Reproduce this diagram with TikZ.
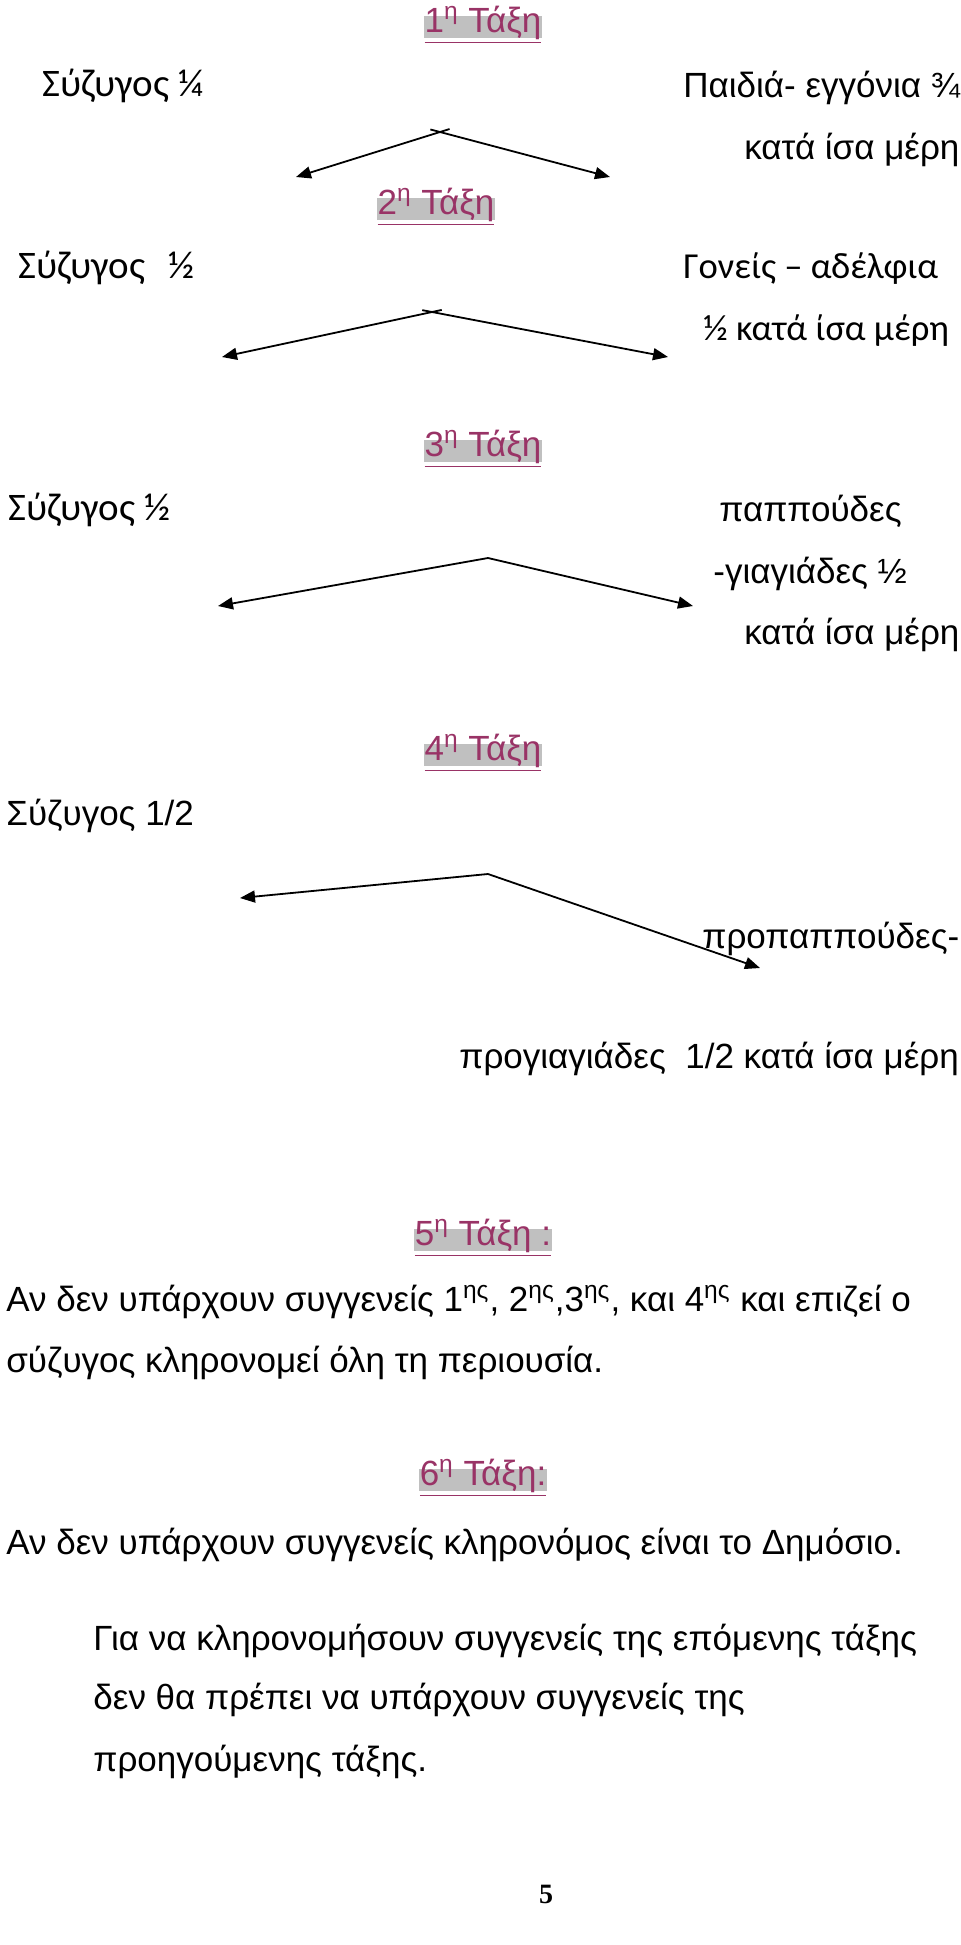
\documentclass[tikz,border=0pt]{standalone}
\usepackage{fontspec}
\setmainfont{Liberation Sans}
\newfontfamily\calfont{Carlito}
\newfontfamily\pagefont{Liberation Serif}
\usepackage{tikz}
\usetikzlibrary{arrows.meta}
\definecolor{hdrgray}{HTML}{C0C0C0}
\definecolor{hdrpink}{HTML}{993366}
\begin{document}
\begin{tikzpicture}[x=0.5pt,y=-0.5pt,
  every node/.style={font=\fontsize{17.5}{21}\selectfont, inner sep=0pt, text height=0.72em, text depth=0.1em},
  txt/.style={anchor=west},
  cal/.style={anchor=west, font=\calfont\fontsize{19.5}{23}\selectfont, text height=0.64em},
  calr/.style={cal, font=\calfont\fontsize{18.3}{22}\selectfont},
  hdr/.style={fill=hdrgray, text=hdrpink, inner xsep=0.5pt, text height=0.84em, text depth=0.3em},
  arr/.style={-{Triangle[length=7.5pt,width=6pt]}, line width=0.9pt}]
\useasboundingbox (0,0) rectangle (960,1945);
% 1η τάξη
\node[hdr] (h1) at (483,27) {\underline{1\textsuperscript{η} Τάξη}};
\node[cal] (s1) at (42,91) {Σύζυγος ¼};
\node[txt] (r1a) at (683,91) {Παιδιά- εγγόνια ¾};
\node[txt] (r1b) at (744,153) {κατά ίσα μέρη};
\coordinate (a1) at (440,132);
\coordinate (l1) at (296,177);
\coordinate (e1) at (610,177);
\draw[arr,shorten <=-5pt] (a1) -- (l1);
\draw[arr,shorten <=-5pt] (a1) -- (e1);
% 2η τάξη
\node[hdr] (h2) at (436,209) {\underline{2\textsuperscript{η} Τάξη}};
\node[cal] (s2) at (18,273) {Σύζυγος\hspace{0.6em}½};
\node[calr] (r2a) at (683,273) {Γονείς – αδέλφια};
\node[calr] (r2b) at (703,335) {½ κατά ίσα μέρη};
\coordinate (a2) at (432,312);
\coordinate (l2) at (222,357);
\coordinate (e2) at (668,357);
\draw[arr,shorten <=-5pt] (a2) -- (l2);
\draw[arr,shorten <=-5pt] (a2) -- (e2);
% 3η τάξη
\node[hdr] (h3) at (483,451) {\underline{3\textsuperscript{η} Τάξη}};
\node[cal] (s3) at (8,515) {Σύζυγος ½};
\node[txt] (r3a) at (719,515) {παππούδες};
\node[txt] (r3b) at (713,577) {-γιαγιάδες ½};
\node[txt] (r3c) at (744,638) {κατά ίσα μέρη};
\coordinate (a3) at (488,558);
\coordinate (l3) at (218,606);
\coordinate (e3) at (693,606);
\draw[arr] (a3) -- (l3);
\draw[arr] (a3) -- (e3);
% 4η τάξη
\node[hdr] (h4) at (483,755) {\underline{4\textsuperscript{η} Τάξη}};
\node[txt] (s4) at (6,819) {Σύζυγος 1/2};
\node[txt] (r4a) at (702,942) {προπαππούδες-};
\node[txt] (r4b) at (459,1062) {προγιαγιάδες\ \ 1/2 κατά ίσα μέρη};
\coordinate (a4) at (488,874);
\coordinate (l4) at (240,898);
\coordinate (e4) at (760,968);
\draw[arr] (a4) -- (l4);
\draw[arr] (a4) -- (e4);
% 5η και 6η τάξη
\node[hdr] (h5) at (483,1240) {\underline{5\textsuperscript{η} Τάξη :}};
\node[txt] (t5a) at (6,1305) {Αν δεν υπάρχουν συγγενείς 1\textsuperscript{ης}, 2\textsuperscript{ης},3\textsuperscript{ης}, και 4\textsuperscript{ης} και επιζεί ο};
\node[txt] (t5b) at (6,1366) {σύζυγος κληρονομεί όλη τη περιουσία.};
\node[hdr] (h6) at (483,1480) {\underline{6\textsuperscript{η} Τάξη:}};
\node[txt] (t6) at (6,1548) {Αν δεν υπάρχουν συγγενείς κληρονόμος είναι το Δημόσιο.};
% σημείωση
\node[txt] (n1) at (93,1644) {Για να κληρονομήσουν συγγενείς της επόμενης τάξης};
\node[txt] (n2) at (93,1703) {δεν θα πρέπει να υπάρχουν συγγενείς της};
\node[txt] (n3) at (93,1765) {προηγούμενης τάξης.};
\node[font=\pagefont\bfseries\fontsize{14}{16}\selectfont] (pg) at (546,1897) {5};
\end{tikzpicture}
\end{document}
